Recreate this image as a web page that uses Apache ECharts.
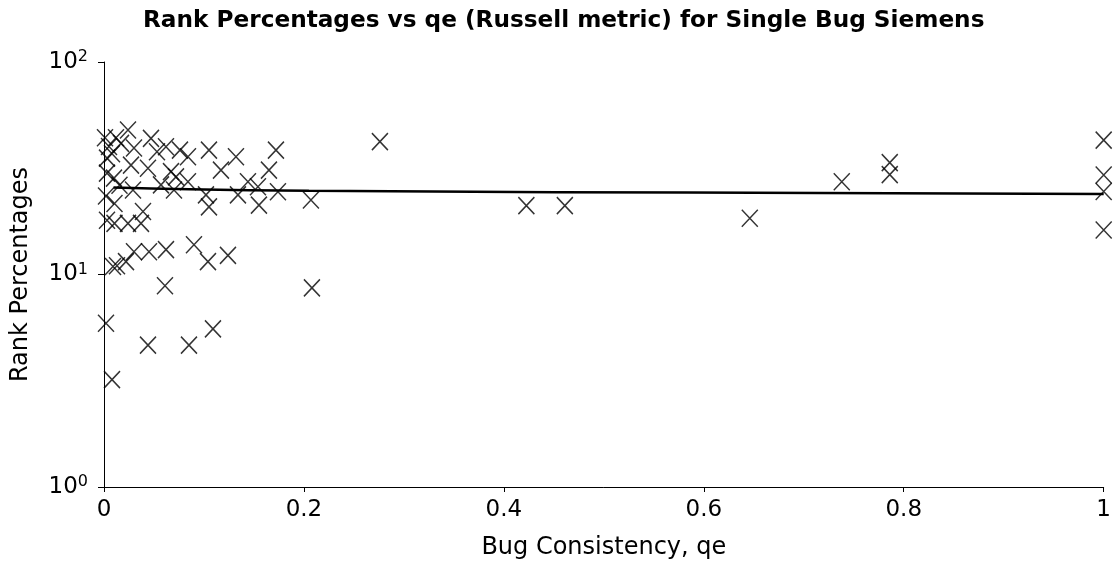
<!DOCTYPE html>
<html>
<head>
<meta charset="utf-8">
<script src="https://cdn.jsdelivr.net/npm/echarts@6/dist/echarts.min.js"></script>
<style>
  html, body { margin: 0; padding: 0; background: #fff; }
  #chart { width: 1114px; height: 569px; }
</style>
</head>
<body>
<div id="chart"></div>
<script>
// Bug consistency (qe) of each Siemens single-bug version
const qeValues = [
  0.002, 0.008, 0.044, 0.085, 0.109, 0.061, 0.208,
  0.013, 0.009, 0.022, 0.030, 0.045, 0.062, 0.090, 0.104, 0.124,
  0.003, 0.0105, 0.024, 0.037,
  0.0105, 0.039, 0.002, 0.0155, 0.029, 0.057, 0.070, 0.102, 0.105, 0.134, 0.155, 0.154, 0.174, 0.207,
  0.010, 0.027, 0.044, 0.067, 0.072, 0.084, 0.117, 0.144, 0.165, 0.003,
  0.024, 0.047, 0.062, 0.017, 0.030, 0.053, 0.003, 0.076, 0.084, 0.105, 0.132, 0.172,
  0.001, 0.005, 0.008, 0.012,
  0.276, 0.4225, 0.461, 0.646, 0.738, 0.786, 0.786,
  1.0, 1.0, 1.0, 1.0
];
// Rank percentage of the faulty statement under the Russell metric
const rankPercentages = [
  5.9, 3.2, 4.65, 4.65, 5.55, 8.85, 8.65,
  11.0, 10.9, 11.5, 12.8, 12.8, 13.1, 13.8, 11.5, 12.3,
  18.0, 17.4, 17.4, 17.4,
  21.6, 19.8, 23.4, 26.3, 25.0, 26.4, 25.0, 23.7, 20.8, 23.7, 21.2, 25.9, 24.5, 22.4,
  28.4, 32.7, 31.6, 30.5, 28.8, 27.3, 31.0, 27.3, 31.0, 30.0,
  47.9, 43.7, 39.9, 41.4, 39.4, 37.8, 35.3, 38.5, 35.8, 38.5, 35.8, 38.5,
  44.0, 40.0, 37.0, 44.0,
  42.2, 21.1, 21.1, 18.4, 27.3, 33.6, 29.5,
  42.9, 29.4, 24.6, 16.2
];
// Fitted trend curve, read at a few qe positions
const trendQe = [0.0095, 0.085, 0.205, 0.452, 0.715, 1.0];
const trendRank = [25.7, 25.2, 24.8, 24.4, 24.2, 23.9];
// Tick labels
const xTickLabels = { 0: '0', 0.2: '0.2', 0.4: '0.4', 0.6: '0.6', 0.8: '0.8', 1: '1' };
const yTickExponents = [0, 1, 2];

const FONT = 'DejaVu Sans';
const points = qeValues.map((q, i) => [q, rankPercentages[i]]);
const trend = trendQe.map((q, i) => [q, trendRank[i]]);

const chart = echarts.init(document.getElementById('chart'), null, { renderer: 'canvas' });
chart.setOption({
  animation: false,
  backgroundColor: '#ffffff',
  title: {
    text: 'Rank Percentages vs qe (Russell metric) for Single Bug Siemens',
    left: 143,
    top: 9,
    padding: 0,
    textStyle: { fontFamily: FONT, fontSize: 23.2, fontWeight: 'bold', color: '#000' }
  },
  grid: { left: 104, right: 9, top: 62, bottom: 82, containLabel: false },
  xAxis: {
    type: 'value',
    min: 0,
    max: 1,
    interval: 0.2,
    name: 'Bug Consistency, qe',
    nameLocation: 'middle',
    nameGap: 49,
    nameTextStyle: { fontFamily: FONT, fontSize: 24, color: '#000' },
    axisLine: { show: true, lineStyle: { color: '#000', width: 1 } },
    axisTick: { show: true, length: 5, lineStyle: { color: '#000', width: 1 } },
    axisLabel: {
      margin: 12,
      fontFamily: FONT,
      fontSize: 23,
      color: '#000',
      formatter: v => xTickLabels[Math.round(v * 10) / 10] ?? String(v)
    },
    splitLine: { show: false }
  },
  yAxis: {
    type: 'log',
    logBase: 10,
    min: 1,
    max: 100,
    name: 'Rank Percentages',
    nameLocation: 'middle',
    nameGap: 71,
    nameTextStyle: { fontFamily: FONT, fontSize: 24, color: '#000' },
    axisLine: { show: true, lineStyle: { color: '#000', width: 1 } },
    axisTick: { show: true, length: 6, lineStyle: { color: '#000', width: 1 } },
    minorTick: { show: false },
    axisLabel: {
      margin: 16,
      fontFamily: FONT,
      color: '#000',
      formatter: v => {
        const e = Math.round(Math.log10(v));
        return yTickExponents.includes(e) ? '{b|10}{s|' + e + '}' : '';
      },
      rich: {
        b: { fontFamily: FONT, fontSize: 23, lineHeight: 26, color: '#000' },
        s: { fontFamily: FONT, fontSize: 16, lineHeight: 16, verticalAlign: 'top', color: '#000' }
      }
    },
    splitLine: { show: false }
  },
  series: [
    {
      type: 'scatter',
      data: points,
      symbol: 'path://M0,0L10,10M10,0L0,10',
      symbolSize: [16, 17],
      itemStyle: { color: 'rgba(0,0,0,0)', borderColor: '#000', borderWidth: 1.5 },
      emphasis: { disabled: true },
      clip: false,
      z: 2
    },
    {
      type: 'line',
      data: trend,
      smooth: true,
      showSymbol: false,
      symbol: 'none',
      lineStyle: { color: '#000', width: 2.5 },
      emphasis: { disabled: true },
      z: 3
    }
  ]
});
</script>
</body>
</html>
